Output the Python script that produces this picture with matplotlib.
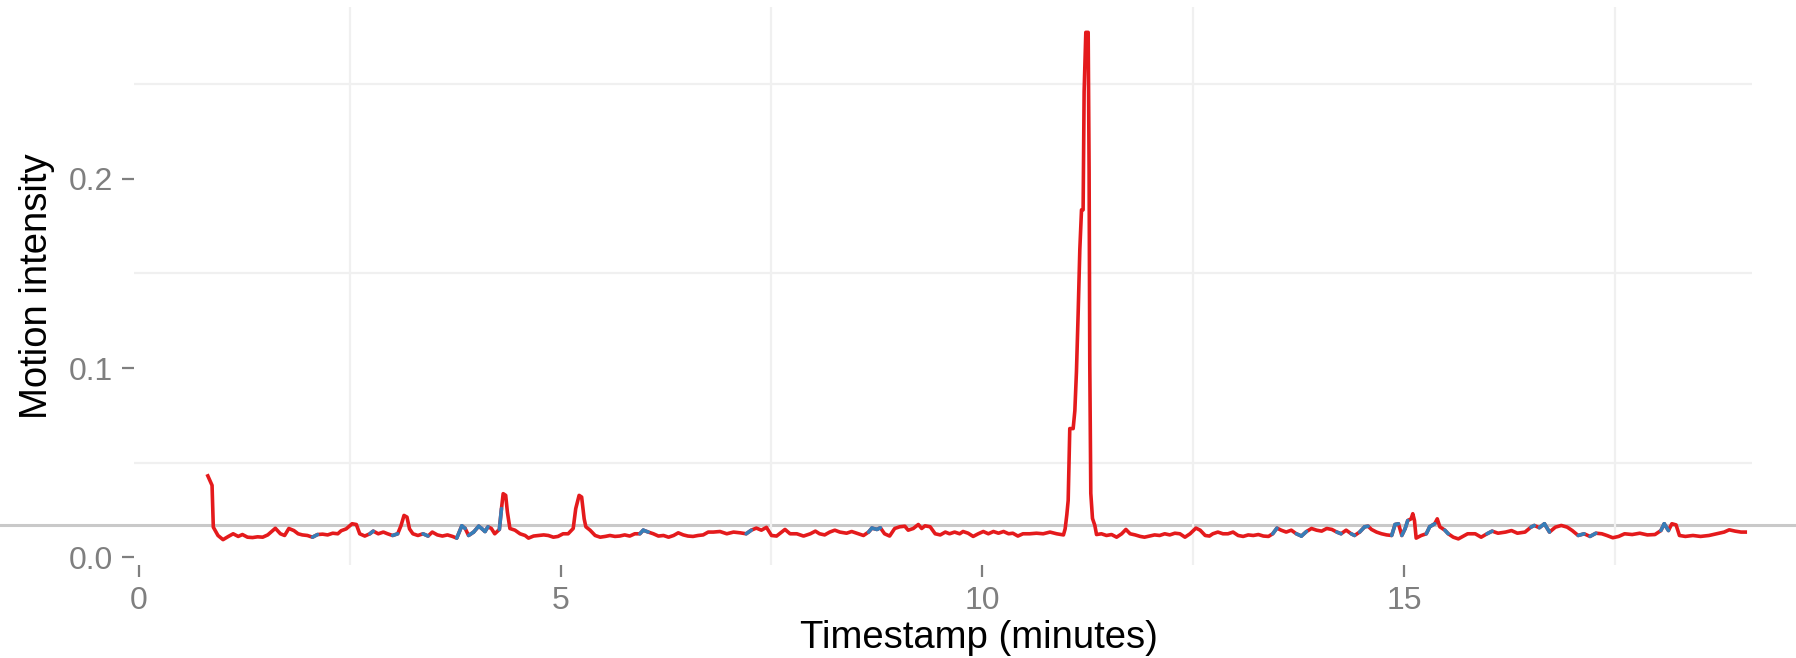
import numpy as np
import matplotlib
matplotlib.use("Agg")
import matplotlib.pyplot as plt
import matplotlib.transforms as mtransforms
from matplotlib.collections import LineCollection

# motion intensity trace, sampled along the recording (minutes)
minutes = [
    0.82, 0.87, 0.885, 0.94, 1.00, 1.06, 1.12, 1.18, 1.23, 1.29, 1.35, 1.41, 1.47, 1.53,
    1.62, 1.68, 1.73, 1.78, 1.84, 1.89, 1.94, 2.00, 2.06, 2.12, 2.18, 2.24, 2.30, 2.36,
    2.40, 2.46, 2.53, 2.58, 2.62, 2.68, 2.74, 2.78, 2.84, 2.90, 2.95, 3.01, 3.07, 3.11,
    3.145, 3.18, 3.21, 3.25, 3.31, 3.37, 3.43, 3.48, 3.54, 3.60, 3.66, 3.72, 3.77, 3.83,
    3.87, 3.91, 3.97, 4.03, 4.065, 4.105, 4.14, 4.18, 4.22, 4.275, 4.30, 4.32, 4.35, 4.37,
    4.40, 4.46, 4.52, 4.58, 4.62, 4.68, 4.74, 4.80, 4.855, 4.915, 4.97, 5.03, 5.09, 5.15,
    5.18, 5.22, 5.25, 5.28, 5.30, 5.35, 5.41, 5.47, 5.53, 5.585, 5.645, 5.70, 5.76, 5.82,
    5.88, 5.94, 5.98, 6.04, 6.10, 6.16, 6.22, 6.28, 6.34, 6.395, 6.455, 6.51, 6.57, 6.63,
    6.69, 6.75, 6.81, 6.89, 6.97, 7.05, 7.13, 7.20, 7.26, 7.32, 7.38, 7.44, 7.50, 7.56,
    7.62, 7.66, 7.72, 7.80, 7.88, 7.96, 8.02, 8.07, 8.13, 8.19, 8.25, 8.31, 8.39, 8.45,
    8.51, 8.59, 8.65, 8.69, 8.75, 8.79, 8.84, 8.90, 8.96, 9.02, 9.08, 9.12, 9.18, 9.24,
    9.28, 9.32, 9.38, 9.44, 9.50, 9.56, 9.61, 9.67, 9.73, 9.77, 9.83, 9.89, 9.95, 10.01,
    10.07, 10.13, 10.19, 10.25, 10.31, 10.36, 10.42, 10.48, 10.56, 10.64, 10.72, 10.80, 10.88, 10.96,
    10.98, 11.00, 11.016, 11.035, 11.075, 11.095, 11.114, 11.134, 11.154, 11.174, 11.193, 11.205, 11.225, 11.253,
    11.264, 11.272, 11.284, 11.304, 11.332, 11.352, 11.41, 11.47, 11.53, 11.59, 11.65, 11.70, 11.75, 11.81,
    11.87, 11.92, 11.98, 12.04, 12.10, 12.16, 12.22, 12.28, 12.34, 12.40, 12.46, 12.53, 12.58, 12.64,
    12.69, 12.73, 12.79, 12.85, 12.91, 12.97, 13.03, 13.09, 13.15, 13.21, 13.27, 13.33, 13.39, 13.44,
    13.49, 13.54, 13.60, 13.66, 13.72, 13.78, 13.84, 13.90, 13.96, 14.02, 14.08, 14.14, 14.20, 14.25,
    14.31, 14.37, 14.41, 14.47, 14.53, 14.57, 14.61, 14.67, 14.73, 14.79, 14.85, 14.89, 14.93, 14.97,
    15.01, 15.04, 15.08, 15.10, 15.12, 15.14, 15.20, 15.26, 15.30, 15.36, 15.39, 15.42, 15.48, 15.52,
    15.58, 15.64, 15.70, 15.75, 15.84, 15.91, 15.98, 16.04, 16.11, 16.20, 16.27, 16.34, 16.43, 16.50,
    16.54, 16.60, 16.66, 16.72, 16.79, 16.86, 16.93, 16.99, 17.06, 17.13, 17.20, 17.27, 17.34, 17.40,
    17.47, 17.54, 17.61, 17.70, 17.79, 17.88, 17.97, 18.04, 18.08, 18.13, 18.17, 18.22, 18.26, 18.33,
    18.42, 18.51, 18.61, 18.70, 18.79, 18.85, 18.92, 18.99, 19.04,
]
intensity = [
    0.0430, 0.0380, 0.0159, 0.0115, 0.0093, 0.0109, 0.0124, 0.0110, 0.0120, 0.0106, 0.0104, 0.0108, 0.0106, 0.0118,
    0.0153, 0.0124, 0.0115, 0.0152, 0.0141, 0.0124, 0.0118, 0.0115, 0.0106, 0.0120, 0.0122, 0.0118, 0.0127, 0.0124,
    0.0140, 0.0150, 0.0177, 0.0173, 0.0124, 0.0112, 0.0124, 0.0138, 0.0124, 0.0133, 0.0124, 0.0115, 0.0124, 0.0168,
    0.0221, 0.0212, 0.0150, 0.0124, 0.0115, 0.0124, 0.0112, 0.0133, 0.0118, 0.0112, 0.0118, 0.0110, 0.0101, 0.0166,
    0.0152, 0.0115, 0.0133, 0.0164, 0.0152, 0.0136, 0.0161, 0.0152, 0.0124, 0.0147, 0.0257, 0.0336, 0.0327, 0.0239,
    0.0152, 0.0143, 0.0124, 0.0115, 0.0101, 0.0112, 0.0115, 0.0118, 0.0115, 0.0106, 0.0110, 0.0124, 0.0124, 0.0152,
    0.0257, 0.0327, 0.0318, 0.0203, 0.0161, 0.0143, 0.0115, 0.0106, 0.0110, 0.0115, 0.0110, 0.0112, 0.0118, 0.0112,
    0.0124, 0.0124, 0.0143, 0.0133, 0.0124, 0.0112, 0.0115, 0.0106, 0.0115, 0.0129, 0.0118, 0.0112, 0.0110, 0.0115,
    0.0118, 0.0133, 0.0133, 0.0136, 0.0124, 0.0133, 0.0129, 0.0124, 0.0143, 0.0154, 0.0143, 0.0158, 0.0115, 0.0112,
    0.0133, 0.0147, 0.0124, 0.0124, 0.0112, 0.0124, 0.0138, 0.0124, 0.0118, 0.0133, 0.0143, 0.0133, 0.0127, 0.0136,
    0.0127, 0.0115, 0.0133, 0.0154, 0.0147, 0.0156, 0.0124, 0.0112, 0.0152, 0.0161, 0.0164, 0.0143, 0.0152, 0.0173,
    0.0152, 0.0166, 0.0161, 0.0124, 0.0118, 0.0133, 0.0124, 0.0133, 0.0124, 0.0136, 0.0127, 0.0110, 0.0124, 0.0136,
    0.0124, 0.0136, 0.0127, 0.0136, 0.0124, 0.0127, 0.0112, 0.0124, 0.0124, 0.0127, 0.0124, 0.0133, 0.0124, 0.0118,
    0.0150, 0.0225, 0.0300, 0.0680, 0.0680, 0.0774, 0.0980, 0.1286, 0.1627, 0.1836, 0.1836, 0.2460, 0.2774, 0.2774,
    0.2044, 0.1020, 0.0338, 0.0205, 0.0168, 0.0120, 0.0124, 0.0115, 0.0120, 0.0106, 0.0124, 0.0147, 0.0124, 0.0118,
    0.0110, 0.0106, 0.0112, 0.0118, 0.0115, 0.0124, 0.0118, 0.0127, 0.0124, 0.0106, 0.0124, 0.0154, 0.0143, 0.0115,
    0.0112, 0.0124, 0.0133, 0.0124, 0.0124, 0.0133, 0.0115, 0.0110, 0.0118, 0.0115, 0.0120, 0.0112, 0.0110, 0.0124,
    0.0154, 0.0143, 0.0133, 0.0143, 0.0124, 0.0112, 0.0136, 0.0152, 0.0143, 0.0138, 0.0152, 0.0147, 0.0133, 0.0124,
    0.0143, 0.0124, 0.0115, 0.0133, 0.0161, 0.0164, 0.0147, 0.0133, 0.0124, 0.0118, 0.0115, 0.0173, 0.0177, 0.0115,
    0.0152, 0.0194, 0.0203, 0.0230, 0.0194, 0.0101, 0.0115, 0.0124, 0.0161, 0.0177, 0.0203, 0.0161, 0.0143, 0.0124,
    0.0106, 0.0097, 0.0112, 0.0124, 0.0124, 0.0106, 0.0124, 0.0138, 0.0127, 0.0133, 0.0141, 0.0127, 0.0133, 0.0159,
    0.0168, 0.0156, 0.0177, 0.0133, 0.0159, 0.0168, 0.0159, 0.0141, 0.0115, 0.0124, 0.0110, 0.0127, 0.0124, 0.0115,
    0.0103, 0.0110, 0.0124, 0.0120, 0.0127, 0.0118, 0.0120, 0.0141, 0.0177, 0.0141, 0.0177, 0.0171, 0.0115, 0.0110,
    0.0115, 0.0110, 0.0115, 0.0124, 0.0133, 0.0145, 0.0138, 0.0133, 0.0133,
]

# stretches where the second state is active (drawn blue)
blue_spans = [
    (2.06, 2.10), (2.73, 2.77), (3.00, 3.04), (3.37, 3.41), (3.77, 3.85), (3.92, 4.06),
    (4.08, 4.12), (4.26, 4.30), (5.96, 6.00), (7.20, 7.24), (8.65, 8.79), (13.45, 13.50),
    (13.76, 13.80), (14.20, 14.26), (14.36, 14.40), (14.48, 14.56), (14.87, 14.92),
    (14.99, 15.03), (15.29, 15.35), (15.46, 15.50), (15.74, 15.78), (16.00, 16.04),
    (16.49, 16.55), (16.64, 16.68), (17.05, 17.10), (17.18, 17.25), (18.06, 18.10),
]

threshold = 0.0168

x_ticks = [0, 5, 10, 15]
x_ticklabels = ["0", "5", "10", "15"]
y_ticks = [0.0, 0.1, 0.2]
y_ticklabels = ["0.0", "0.1", "0.2"]

RED = "#e41a1c"
BLUE = "#377eb8"
TICK_GREY = "#7f7f7f"

plt.rcParams['font.family'] = ['Liberation Sans', 'DejaVu Sans']

W, H = 1796, 658
fig = plt.figure(figsize=(W / 100, H / 100), dpi=100)
left, right, top, bottom = 134, 1752, 7, 565
ax = fig.add_axes([left / W, 1 - bottom / H, (right - left) / W, (bottom - top) / H])

ax.set_xlim(-0.055, 19.12)
ax.set_ylim(-0.0041, 0.2908)

for s in ax.spines.values():
    s.set_visible(False)

# only the minor grid is shown
ax.set_xticks([2.5, 7.5, 12.5, 17.5], minor=True)
ax.set_yticks([0.05, 0.15, 0.25], minor=True)
ax.grid(which='minor', color='#f0f0f0', lw=1.6)
ax.grid(which='major', visible=False)
ax.tick_params(which='minor', length=0)

ax.set_xticks(x_ticks)
ax.set_xticklabels(x_ticklabels)
ax.set_yticks(y_ticks)
ax.set_yticklabels(y_ticklabels)
ax.tick_params(which='major', length=8.5, width=1.6, color=TICK_GREY,
               labelcolor=TICK_GREY, labelsize=23, pad=6.5)

# threshold line runs the full width of the figure
trans = mtransforms.blended_transform_factory(fig.transFigure, ax.transData)
ax.plot([0, 1], [threshold, threshold], transform=trans, clip_on=False,
        color='#c9c9c9', lw=2.2, zorder=1)

t = np.array(minutes)
v = np.array(intensity)
ax.plot(t, v, color=RED, lw=2.6, solid_joinstyle='round', zorder=3)

pts = np.column_stack([t, v])
segs = np.stack([pts[:-1], pts[1:]], axis=1)
mid = (t[:-1] + t[1:]) / 2
is_blue = np.zeros(len(mid), dtype=bool)
for a, b in blue_spans:
    is_blue |= (mid >= a - 0.01) & (mid <= b + 0.01)
ax.add_collection(LineCollection(segs[is_blue], colors=BLUE, linewidths=2.6,
                                 capstyle='round', zorder=4))

ax.set_xlabel('Timestamp (minutes)', fontsize=27.5, color='black')
ax.xaxis.set_label_coords((979 - left) / (right - left), (bottom - 638) / (bottom - top))
ax.xaxis.label.set_va('center')
ax.set_ylabel('Motion intensity', fontsize=27.5, color='black')
ax.yaxis.set_label_coords((37 - left) / (right - left), 0.5)
ax.yaxis.label.set_va('center')

fig.savefig('out.png', dpi=100)
